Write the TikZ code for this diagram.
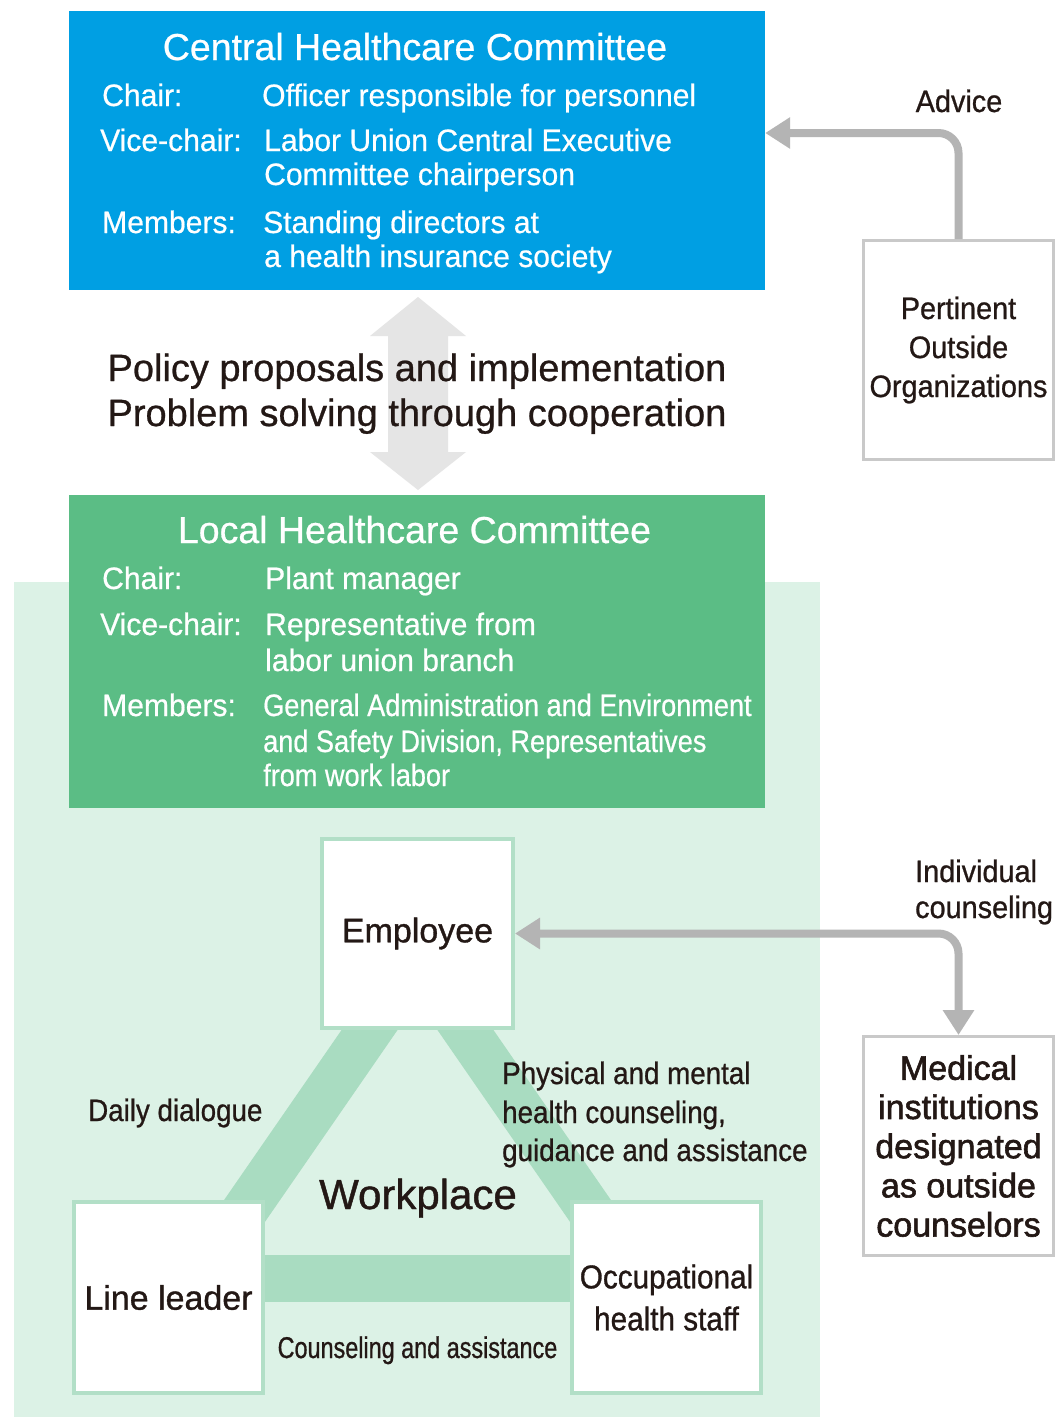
\documentclass[tikz,border=0pt]{standalone}
\usepackage{fontspec}
\setmainfont{Liberation Sans}
\newfontfamily\famN[FakeBold=0.7]{Liberation Sans}
\newfontfamily\famA[FakeStretch=0.97,FakeBold=0.6]{Liberation Sans}
\newfontfamily\famB[FakeStretch=0.875,FakeBold=0.6]{Liberation Sans}
\newfontfamily\famC[FakeStretch=0.93,FakeBold=0.8]{Liberation Sans}
\newfontfamily\famG[FakeStretch=0.895,FakeBold=0.8]{Liberation Sans}
\newfontfamily\famD[FakeStretch=0.78,FakeBold=0.8]{Liberation Sans}
\newfontfamily\famE[FakeStretch=0.9,FakeBold=0.9]{Liberation Sans}
\newfontfamily\famH[FakeBold=1.0]{Liberation Sans}
\newfontfamily\famF[FakeBold=1.7]{Liberation Sans}
\usetikzlibrary{arrows.meta}
\definecolor{ink}{HTML}{231815}
\definecolor{cblue}{HTML}{009FE3}
\definecolor{cgreen}{HTML}{5BBD85}
\definecolor{bggreen}{HTML}{DCF2E6}
\definecolor{bandgreen}{HTML}{A9DCC1}
\definecolor{boxgreen}{HTML}{B2DFC7}
\definecolor{garrowc}{HTML}{B4B4B4}
\definecolor{gbox}{HTML}{C9C9C9}
\definecolor{dblarrow}{HTML}{E5E5E5}
\newcommand\fTitle{\famN\fontsize{37.5}{44}\selectfont}
\newcommand\fDet{\famA\fontsize{31}{37}\selectfont}
\newcommand\fMem{\famB\fontsize{31}{37}\selectfont}
\newcommand\fSmall{\famC\fontsize{31}{39}\selectfont}
\newcommand\fSmallN{\famG\fontsize{31}{39}\selectfont}
\newcommand\fTiny{\famD\fontsize{30}{36}\selectfont}
\newcommand\fOcc{\famE\fontsize{33}{42}\selectfont}
\newcommand\fBig{\famH\fontsize{34}{40}\selectfont}
\newcommand\fMed{\famF\fontsize{34}{39.2}\selectfont}
\newcommand\fPol{\famN\fontsize{38}{45}\selectfont}
\newcommand\fWork{\famH\fontsize{42}{50}\selectfont}
\tikzset{
  wt/.style={inner sep=0pt, text=white, anchor=base west, font=\fDet},
  wm/.style={inner sep=0pt, text=white, anchor=base west, font=\fMem},
  bt/.style={inner sep=0pt, text=ink, anchor=base west, font=\fSmall},
  btn/.style={inner sep=0pt, text=ink, anchor=base west, font=\fSmallN},
  greenbox/.style={draw=boxgreen, line width=4pt, fill=white, inner sep=0pt, text=ink},
  graybox/.style={draw=gbox, line width=3pt, fill=white, inner sep=0pt, text=ink, align=center},
  garrow/.style={draw=garrowc, line width=8pt, rounded corners=20pt},
  gtip/.tip={Triangle[width=30pt,length=25pt]}
}
\begin{document}
\begin{tikzpicture}[x=1pt,y=-1pt]
\useasboundingbox (0,0) rectangle (1056,1419);
\fill[white] (0,0) rectangle (1056,1419);
% workplace background
\fill[bggreen] (14,582) rectangle (820,1417);
% committees
\node[fill=cblue, minimum width=696pt, minimum height=279pt, inner sep=0pt] (central) at (417,150.5) {};
\node[fill=cgreen, minimum width=696pt, minimum height=313pt, inner sep=0pt] (local) at (417,651.5) {};
% double arrow
\fill[dblarrow] (418,297) -- (466,336) -- (448,336) -- (448,452) -- (466,452) -- (418,490)
  -- (370,452) -- (388,452) -- (388,336) -- (370,336) -- cycle;
% bands
\fill[bandgreen] (345,1025) -- (401,1025) -- (240,1258) -- (184,1258) -- cycle;
\fill[bandgreen] (434,1025) -- (490,1025) -- (651,1258) -- (595,1258) -- cycle;
\fill[bandgreen] (260,1255) rectangle (575,1302);
% boxes
\node[greenbox, minimum width=191pt, minimum height=189pt, font=\fBig] (emp) at (417.5,933.5) {Employee};
\node[greenbox, minimum width=189pt, minimum height=191pt, font=\fBig] (line) at (168.5,1297.5) {Line leader};
\node[greenbox, minimum width=189pt, minimum height=191pt, font=\fOcc, align=center] (occ) at (666.5,1297.5) {Occupational\\health staff};
\node[graybox, minimum width=190pt, minimum height=219pt, font=\fSmall] (pert) at (958.5,350) {Pertinent\\Outside\\Organizations};
\node[graybox, minimum width=190pt, minimum height=219pt, font=\fMed] (med) at (958.5,1146) {Medical\\institutions\\designated\\as outside\\counselors};
% central texts
\node[inner sep=0pt, text=white, anchor=base, font=\fTitle] (ctitle) at (415,60) {Central Healthcare Committee};
\node[wt] (cl1) at (102,106) {Chair:};
\node[wt] (cv1) at (262,106) {Officer responsible for personnel};
\node[wt] (cl2) at (100,151) {Vice-chair:};
\node[wt] (cv2) at (264,151) {Labor Union Central Executive};
\node[wt] (cv3) at (264,185) {Committee chairperson};
\node[wt] (cl3) at (102,233) {Members:};
\node[wt] (cv4) at (263,233) {Standing directors at};
\node[wt] (cv5) at (264,267) {a health insurance society};
% policy text
\node[inner sep=0pt, text=ink, anchor=base, font=\fPol] (pol1) at (417,381) {Policy proposals and implementation};
\node[inner sep=0pt, text=ink, anchor=base, font=\fPol] (pol2) at (417,426) {Problem solving through cooperation};
% local texts
\node[inner sep=0pt, text=white, anchor=base, font=\fTitle] (ltitle) at (414.5,543) {Local Healthcare Committee};
\node[wt] (ll1) at (102,589) {Chair:};
\node[wt] (lv1) at (265,589) {Plant manager};
\node[wt] (ll2) at (100,635) {Vice-chair:};
\node[wt] (lv2) at (265,635) {Representative from};
\node[wt] (lv3) at (265,671) {labor union branch};
\node[wt] (ll3) at (102,716) {Members:};
\node[wm] (lv4) at (263,716) {General Administration and Environment};
\node[wm] (lv5) at (263,752) {and Safety Division, Representatives};
\node[wm] (lv6) at (263,786) {from work labor};
% labels
\node[inner sep=0pt, text=ink, anchor=base, font=\fSmall] (adv) at (959,112) {Advice};
\node[bt] (ind1) at (915,882) {Individual};
\node[bt] (ind2) at (915,918) {counseling};
\node[btn] (daily) at (88,1121) {Daily dialogue};
\node[btn] (phy1) at (502,1084) {Physical and mental};
\node[btn] (phy2) at (502,1123) {health counseling,};
\node[btn] (phy3) at (502,1161) {guidance and assistance};
\node[inner sep=0pt, text=ink, anchor=base, font=\fWork] (work) at (418,1209) {Workplace};
\node[inner sep=0pt, text=ink, anchor=base, font=\fTiny] (couns) at (417.5,1358) {Counseling and assistance};
% gray arrows
\draw[garrow, -gtip] (pert.north) |- ([yshift=17.5pt]central.east);
\draw[garrow, gtip-gtip] (emp.east) -| (med.north);
\end{tikzpicture}
\end{document}
